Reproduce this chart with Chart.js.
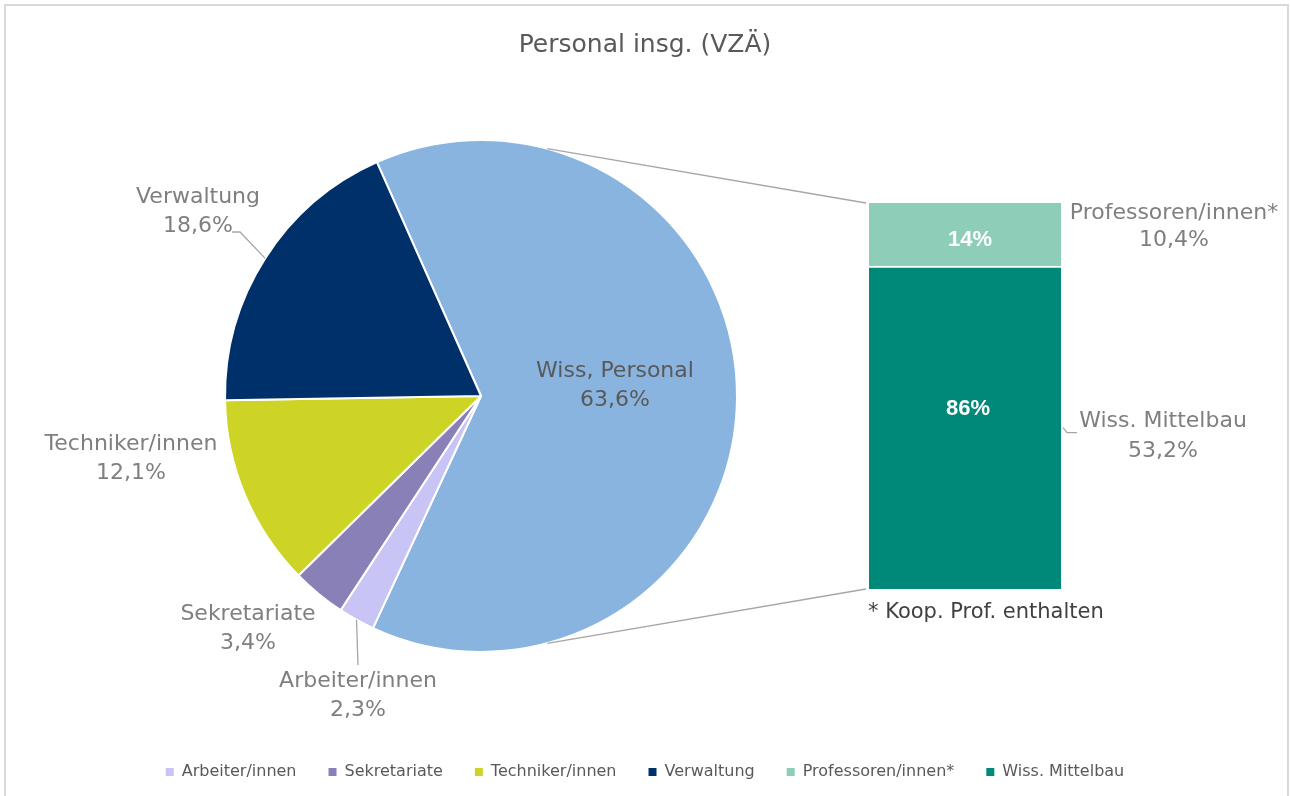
<!DOCTYPE html>
<html lang="de">
<head>
<meta charset="utf-8">
<title>Personal insg. (VZÄ)</title>
<script src="https://cdn.jsdelivr.net/npm/chart.js@4.4.1/dist/chart.umd.min.js"></script>
<style>
  html, body { margin: 0; padding: 0; background: #ffffff; width: 1290px; height: 796px; overflow: hidden; }
  #frame { position: absolute; left: 4px; top: 4px; width: 1285px; height: 820px; border: 2px solid #d9d9d9; box-sizing: border-box; }
  .layer { position: absolute; left: 0; top: 0; width: 1290px; height: 796px; }
</style>
</head>
<body>
<div id="frame"></div>
<div class="layer"><canvas id="pie"></canvas></div>
<div class="layer"><canvas id="bar"></canvas></div>
<script>
// ---------------- data ----------------
const chartTitle = 'Personal insg. (VZÄ)';
const pieLabels = ['Wiss, Personal', 'Arbeiter/innen', 'Sekretariate', 'Techniker/innen', 'Verwaltung'];
const pieValues = [63.6, 2.3, 3.4, 12.1, 18.6];
const pieValueText = ['63,6%', '2,3%', '3,4%', '12,1%', '18,6%'];
const pieColors = ['#8AB4E0', '#C9C4F6', '#8880B6', '#CDD426', '#00306A'];

const barLabels = ['Wiss. Mittelbau', 'Professoren/innen*'];
const barValues = [53.2, 10.4];
const barValueText = ['53,2%', '10,4%'];
const barShareText = ['86%', '14%'];
const barColors = ['#008878', '#8ECDB7'];

const legendOrder = ['Arbeiter/innen', 'Sekretariate', 'Techniker/innen', 'Verwaltung', 'Professoren/innen*', 'Wiss. Mittelbau'];
const footnote = '* Koop. Prof. enthalten';

// ---------------- styles / layout ----------------
const FONT = "'DejaVu Sans', sans-serif";
Chart.defaults.font.family = FONT;
const LINE_GREY = '#A6A6A6';
const LABEL_GREY = '#7F7F7F';
const DARK_GREY = '#595959';

// pie plot box (chart area) in page pixels
const PIE_BOX = { left: 224, right: 738, top: 139, bottom: 653 };
// bar plot box
const BAR_BOX = { left: 869, right: 1061, top: 203, bottom: 589 };

// label placement for pie slices (offset of label block centre from pie centre)
const pieLabelStyle = [
  { dx: 134, dy: -10, color: DARK_GREY },
  { dx: -123, dy: 300, color: LABEL_GREY, leader: [[-123, 269]] },
  { dx: -233, dy: 233, color: LABEL_GREY },
  { dx: -350, dy: 63, color: LABEL_GREY },
  { dx: -283, dy: -184, color: LABEL_GREY, leader: [[-241, -164], [-249, -164]] }
];
// bar segment labels (relative to right edge of bar / segment middle)
const barSideStyle = [
  { dx: 102, dyName: -6, dyVal: 24, leader: [[2, 0], [6, 5], [16, 5]], inDx: 3, inDy: -19 },
  { dx: 113, dyName: -21, dyVal: 6, leader: null, inDx: 5, inDy: 5 }
];
const CONNECTOR_ANGLE = 75 * Math.PI / 180; // from the horizontal, canvas angles

function colorOf(name) {
  const bi = barLabels.indexOf(name);
  if (bi >= 0) return barColors[bi];
  const pi = pieLabels.indexOf(name);
  return pieColors[pi];
}

// ---------------- pie chart ----------------
const pieLabelPlugin = {
  id: 'pieLabels',
  afterDatasetsDraw(chart) {
    const ctx = chart.ctx;
    const meta = chart.getDatasetMeta(0);
    ctx.save();
    ctx.textAlign = 'center';
    ctx.textBaseline = 'middle';
    ctx.font = '22px ' + FONT;
    meta.data.forEach((arc, i) => {
      const st = pieLabelStyle[i];
      const cx = arc.x, cy = arc.y, r = arc.outerRadius;
      const mid = (arc.startAngle + arc.endAngle) / 2;
      if (st.leader) {
        ctx.beginPath();
        ctx.moveTo(cx + Math.cos(mid) * r, cy + Math.sin(mid) * r);
        st.leader.forEach(([dx, dy]) => ctx.lineTo(cx + dx, cy + dy));
        ctx.strokeStyle = LINE_GREY;
        ctx.lineWidth = 1.3;
        ctx.stroke();
      }
      ctx.fillStyle = st.color;
      ctx.fillText(pieLabels[i], cx + st.dx, cy + st.dy - 14.5);
      ctx.fillText(pieValueText[i], cx + st.dx, cy + st.dy + 14.5);
    });
    ctx.restore();
  }
};

const spacer = (position, size) => ({
  type: 'linear', position, display: true,
  ticks: { display: false }, grid: { display: false }, border: { display: false },
  afterFit: (s) => { if (s.isHorizontal()) s.height = size; else s.width = size; }
});

const pieChart = new Chart(document.getElementById('pie'), {
  type: 'pie',
  data: {
    labels: pieLabels,
    datasets: [{
      data: pieValues,
      backgroundColor: pieColors,
      borderColor: '#ffffff',
      borderWidth: 2
    }]
  },
  options: {
    responsive: true,
    maintainAspectRatio: false,
    animation: false,
    rotation: -24,
    layout: { padding: { top: 0, left: 0, right: 0, bottom: 6 } },
    scales: {
      padL: spacer('left', PIE_BOX.left),
      padR: spacer('right', 1290 - PIE_BOX.right),
      padB: spacer('bottom', 79)
    },
    plugins: {
      title: {
        display: true,
        text: chartTitle,
        color: DARK_GREY,
        font: { size: 25, weight: 'normal', family: FONT },
        padding: { top: 30, bottom: 79 }
      },
      legend: {
        display: true,
        position: 'bottom',
        labels: {
          boxWidth: 8,
          boxHeight: 8,
          padding: 32,
          color: DARK_GREY,
          font: { size: 16, family: FONT },
          generateLabels: () => legendOrder.map(name => ({
            text: name,
            fillStyle: colorOf(name),
            strokeStyle: colorOf(name),
            lineWidth: 0,
            hidden: false,
            fontColor: DARK_GREY
          }))
        }
      },
      tooltip: { enabled: false }
    }
  },
  plugins: [pieLabelPlugin]
});

// ---------------- bar chart ----------------
const barLabelPlugin = {
  id: 'barLabels',
  afterDatasetsDraw(chart) {
    const ctx = chart.ctx;
    const area = chart.chartArea;
    const arc = pieChart.getDatasetMeta(0).data[0];
    ctx.save();
    // connector lines pie -> bar
    ctx.strokeStyle = LINE_GREY;
    ctx.lineWidth = 1.3;
    ctx.beginPath();
    ctx.moveTo(arc.x + Math.cos(-CONNECTOR_ANGLE) * arc.outerRadius, arc.y + Math.sin(-CONNECTOR_ANGLE) * arc.outerRadius);
    ctx.lineTo(area.left - 3, area.top);
    ctx.moveTo(arc.x + Math.cos(CONNECTOR_ANGLE) * arc.outerRadius, arc.y + Math.sin(CONNECTOR_ANGLE) * arc.outerRadius);
    ctx.lineTo(area.left - 3, area.bottom);
    ctx.stroke();

    chart.data.datasets.forEach((ds, i) => {
      const bar = chart.getDatasetMeta(i).data[0];
      const st = barSideStyle[i];
      const mid = (bar.y + bar.base) / 2;
      // inner share label
      ctx.fillStyle = '#ffffff';
      ctx.font = 'bold 22px "Liberation Sans", Arial, sans-serif';
      ctx.textAlign = 'center';
      ctx.textBaseline = 'middle';
      ctx.fillText(barShareText[i], bar.x + st.inDx, mid + st.inDy);
      // side labels
      ctx.fillStyle = LABEL_GREY;
      ctx.font = '22px ' + FONT;
      ctx.fillText(barLabels[i], area.right + st.dx, mid + st.dyName);
      ctx.fillText(barValueText[i], area.right + st.dx, mid + st.dyVal);
      if (st.leader) {
        ctx.beginPath();
        st.leader.forEach(([dx, dy], k) => {
          const px = area.right + dx, py = mid + dy;
          if (k === 0) ctx.moveTo(px, py); else ctx.lineTo(px, py);
        });
        ctx.stroke();
      }
    });
    // footnote
    ctx.fillStyle = '#404040';
    ctx.font = '21px ' + FONT;
    ctx.textAlign = 'left';
    ctx.textBaseline = 'middle';
    ctx.fillText(footnote, area.left - 1, area.bottom + 24);
    ctx.restore();
  }
};

new Chart(document.getElementById('bar'), {
  type: 'bar',
  data: {
    labels: ['Wiss, Personal'],
    datasets: barLabels.map((name, i) => ({
      label: name,
      data: [barValues[i]],
      backgroundColor: barColors[i],
      borderColor: '#ffffff',
      borderWidth: i === 0 ? { top: 2, bottom: 0, left: 0, right: 0 } : 0,
      borderSkipped: false,
      categoryPercentage: 1,
      barPercentage: 1
    }))
  },
  options: {
    responsive: true,
    maintainAspectRatio: false,
    animation: false,
    layout: { padding: { left: BAR_BOX.left, right: 1290 - BAR_BOX.right, top: BAR_BOX.top, bottom: 796 - BAR_BOX.bottom } },
    scales: {
      x: { display: false, stacked: true },
      y: { display: false, stacked: true, min: 0, max: barValues.reduce((a, b) => a + b, 0) }
    },
    plugins: {
      legend: { display: false },
      title: { display: false },
      tooltip: { enabled: false }
    }
  },
  plugins: [barLabelPlugin]
});
</script>
</body>
</html>
